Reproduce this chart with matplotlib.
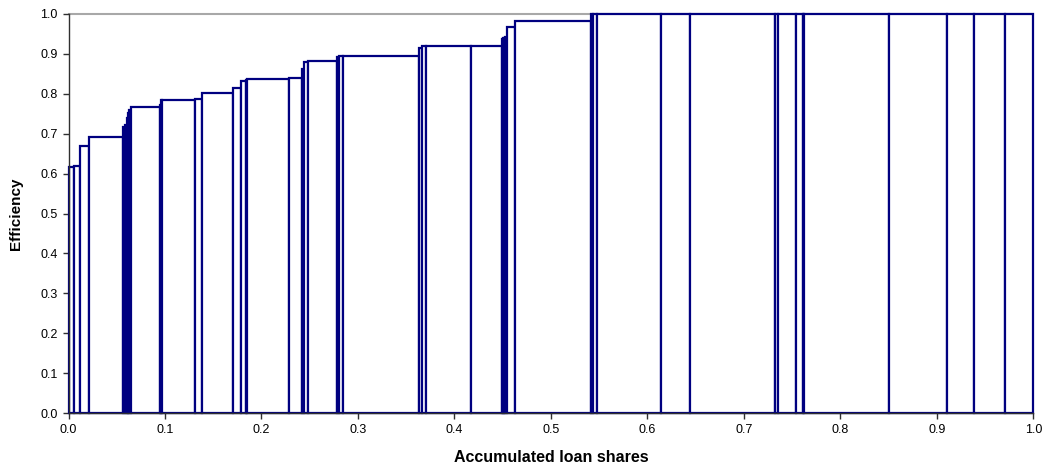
import matplotlib
matplotlib.use("Agg")
import matplotlib.pyplot as plt
import numpy as np

# Cumulative loan-share boundaries (bar edges) and efficiency of each bank
cum_share = [0.0, 0.0057, 0.0122, 0.0212, 0.0562, 0.0586, 0.0606, 0.0617, 0.0632,
             0.0648, 0.0948, 0.0959, 0.0972, 0.1311, 0.1384, 0.1702, 0.1788, 0.1837,
             0.1847, 0.2289, 0.2423, 0.2444, 0.2486, 0.2783, 0.2804, 0.2848, 0.3636,
             0.3661, 0.3705, 0.4172, 0.4490, 0.4504, 0.4514, 0.4529, 0.4548, 0.4628,
             0.5416, 0.5439, 0.5481, 0.6141, 0.6442, 0.7318, 0.7357, 0.7540, 0.7610,
             0.7627, 0.8504, 0.9103, 0.9382, 0.9707, 1.0]
efficiency = [0.616, 0.620, 0.670, 0.691, 0.717, 0.721, 0.739, 0.751, 0.760,
              0.768, 0.772, 0.785, 0.785, 0.787, 0.803, 0.815, 0.832, 0.834,
              0.836, 0.840, 0.862, 0.880, 0.881, 0.892, 0.894, 0.894, 0.916,
              0.920, 0.921, 0.921, 0.937, 0.940, 0.941, 0.943, 0.967, 0.982,
              1.0, 1.0, 1.0, 1.0, 1.0, 1.0, 1.0, 1.0, 1.0, 1.0, 1.0, 1.0, 1.0, 1.0]
x_ticks = [0.0, 0.1, 0.2, 0.3, 0.4, 0.5, 0.6, 0.7, 0.8, 0.9, 1.0]
y_ticks = [0.0, 0.1, 0.2, 0.3, 0.4, 0.5, 0.6, 0.7, 0.8, 0.9, 1.0]

plt.rcParams["font.family"] = ["Liberation Sans", "DejaVu Sans"]

fig = plt.figure(figsize=(10.44, 4.66), dpi=100)
ax = fig.add_axes([68.5 / 1044, 1 - 413 / 466, (1033.3 - 68.5) / 1044, (413 - 14) / 466])

left = np.array(cum_share[:-1])
width = np.diff(cum_share)
bars = ax.bar(left, efficiency, width=width, align="edge", color="white",
              edgecolor="#000080", linewidth=1.6, zorder=2)
for b in bars:
    b.set_clip_on(False)

ax.set_xlim(0, 1)
ax.set_ylim(0, 1)
ax.set_xticks(x_ticks)
ax.set_yticks(y_ticks)
ax.set_xticklabels([f"{v:.1f}" for v in x_ticks])
ax.set_yticklabels([f"{v:.1f}" for v in y_ticks])
ax.tick_params(axis="both", direction="out", length=4, width=1, color="#303030",
               labelsize=9, pad=4)

for s in ("left", "bottom"):
    ax.spines[s].set_color("#303030")
    ax.spines[s].set_linewidth(1.0)
    ax.spines[s].set_zorder(3)
ax.spines["top"].set_color("#a8a8a8")
ax.spines["top"].set_linewidth(1.5)
ax.spines["top"].set_zorder(1)
ax.spines["right"].set_visible(False)

ax.set_xlabel("Accumulated loan shares", fontsize=11.5, fontweight="bold", labelpad=10)
ax.set_ylabel("Efficiency", fontsize=11, fontweight="bold", labelpad=12)

fig.savefig("out.png", dpi=100)
